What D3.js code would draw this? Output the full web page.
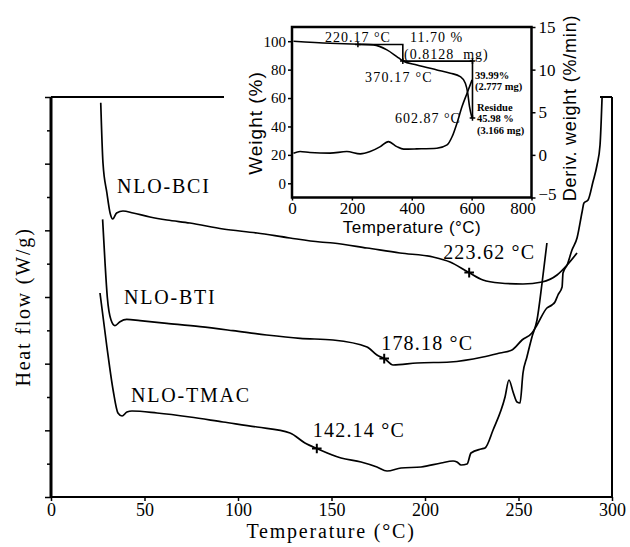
<!DOCTYPE html>
<html><head><meta charset="utf-8">
<script src="https://cdn.jsdelivr.net/npm/d3@7"></script>
<style>
html,body{margin:0;padding:0;background:#fff;}
svg{display:block;}
text{white-space:pre;}
</style></head><body>
<svg id="c" width="630" height="547"></svg>
<script>
// ---------- DATA ----------
// Main DSC chart
const xTickValues = [0, 50, 100, 150, 200, 250, 300];
const yMajorTicks = [0, 2, 4, 6, 8, 10, 12];
const yMinorTicks = [1, 3, 5, 7, 9, 11];

const bciTemp = [26.6, 27.8, 29.9, 31.6, 33.0, 35.1, 38.5, 43.9, 52.9, 62.0, 74.3, 92.0, 110.2, 127.8, 143.9, 150.8, 169.0, 186.6, 204.3, 213.4, 223.0, 231.0, 240.1, 252.4, 262.6, 270.6, 276.0, 281.3];
const bciHeat = [11.83, 10.02, 9.12, 8.52, 8.34, 8.52, 8.58, 8.52, 8.40, 8.31, 8.22, 8.04, 7.92, 7.77, 7.65, 7.62, 7.47, 7.32, 7.20, 7.05, 6.75, 6.51, 6.42, 6.39, 6.45, 6.66, 6.96, 7.32];

const btiTemp = [27.6, 28.9, 30.1, 32.1, 34.2, 36.9, 40.5, 47.6, 61.9, 79.7, 97.3, 115.3, 133.2, 150.8, 169.0, 174.3, 178.6, 182.9, 195.7, 213.4, 231.0, 240.1, 246.5, 251.9, 257.2, 259.9, 265.2, 267.9, 269.5, 271.1, 273.3, 273.8, 276.0, 278.6, 281.3, 284.0, 285.0, 287.2, 289.8, 292.0, 293.6, 294.7];
const btiHeat = [8.33, 7.02, 6.00, 5.31, 5.14, 5.26, 5.33, 5.29, 5.21, 5.11, 4.99, 4.86, 4.76, 4.71, 4.50, 4.26, 4.14, 3.96, 4.02, 4.05, 4.20, 4.32, 4.41, 4.71, 4.92, 5.16, 5.67, 5.76, 5.85, 6.06, 6.30, 6.72, 6.96, 7.41, 7.77, 8.55, 8.82, 8.91, 9.45, 9.96, 10.56, 12.0];

const tmacTemp = [26.2, 29.9, 33.2, 35.8, 38.0, 40.6, 43.3, 56.7, 74.3, 92.0, 110.2, 127.8, 135.8, 142.8, 155.1, 165.8, 174.3, 179.7, 187.2, 197.9, 208.6, 215.0, 217.1, 219.3, 222.5, 224.6, 230.0, 232.1, 236.4, 242.8, 244.9, 247.1, 249.2, 250.8, 252.4, 254.5, 257.2, 259.9, 262.6, 265.2];
const tmacHeat = [6.12, 4.50, 3.21, 2.52, 2.43, 2.55, 2.58, 2.52, 2.40, 2.25, 2.10, 1.92, 1.62, 1.44, 1.17, 1.05, 0.90, 0.78, 0.87, 0.90, 1.02, 1.08, 1.05, 0.96, 0.99, 1.32, 1.44, 1.47, 2.01, 3.00, 3.51, 3.15, 2.85, 2.82, 3.72, 4.20, 4.80, 5.31, 6.42, 7.62];

const sampleNames = ["NLO-BCI", "NLO-BTI", "NLO-TMAC"];
const transitionTemps = [223.62, 178.18, 142.14];
const transitionLabels = ["223.62 °C", "178.18 °C", "142.14 °C"];

// Inset TGA chart
const insetXTicks = [0, 200, 400, 600, 800];
const insetWeightTicks = [0, 20, 40, 60, 80, 100];
const insetDerivTicks = [-5, 0, 5, 10, 15];

const tgaTemp   = [5, 127, 222, 272, 317, 350, 370.5, 417, 484, 529, 562, 579, 587, 593, 601.5];
const tgaWeight = [100, 98.6, 97.9, 97.4, 93.9, 89.2, 86.1, 83.3, 79.8, 77.5, 75.1, 70.4, 63.4, 53.9, 45.8];

const dtgTemp  = [5, 27, 60, 127, 183, 228, 261, 295, 322, 350, 373, 417, 484, 518, 535, 551, 568, 585, 601.5];
const dtgDeriv = [0.2, 0.39, 0.27, 0.2, 0.39, 0.12, 0.39, 0.97, 1.56, 0.97, 0.67, 0.70, 0.78, 1.17, 2.15, 3.72, 5.67, 7.25, 8.8];

const stepTemp   = [220.17, 370.17, 370.17, 602.87, 602.87];
const stepWeight = [97.7, 97.7, 86.0, 86.0, 46.0];

// ---------- DRAW ----------
const svg = d3.select('#c');
const serif = '"Liberation Serif","Times New Roman",serif';
const sans = '"Liberation Sans",Arial,sans-serif';

const x = d3.scaleLinear().domain([0, 300]).range([51, 612]);
const y = d3.scaleLinear().domain([0, 12]).range([497, 97]);

const main = svg.append('g');

// y ticks (no labels)
const yMaj = main.append('g').attr('transform', `translate(${x(0)},0)`)
  .call(d3.axisLeft(y).tickValues(yMajorTicks).tickSize(6).tickFormat(''));
const yMin = main.append('g').attr('transform', `translate(${x(0)},0)`)
  .call(d3.axisLeft(y).tickValues(yMinorTicks).tickSize(4).tickFormat(''));
[yMaj, yMin].forEach(a => { a.select('.domain').remove(); a.selectAll('line').attr('stroke', '#000').attr('stroke-width', 1.5); });

// x axis
const xAx = main.append('g').attr('transform', `translate(0,${y(0)})`)
  .call(d3.axisBottom(x).tickValues(xTickValues).tickSize(4));
xAx.select('.domain').remove();
xAx.selectAll('line').attr('stroke', '#000').attr('stroke-width', 1.5);
xAx.selectAll('text').attr('y', 19).attr('dy', 0)
  .style('font-family', serif).style('font-size', '18px').attr('fill', '#000');

// frame
const [x0, x1] = x.range();
const [yb, yt] = y.range();
main.append('line').attr('x1', x0).attr('x2', x0).attr('y1', yt).attr('y2', yb).attr('stroke', '#000').attr('stroke-width', 3);
main.append('line').attr('x1', x0).attr('x2', x1).attr('y1', yb).attr('y2', yb).attr('stroke', '#000').attr('stroke-width', 2);
main.append('line').attr('x1', x0).attr('x2', x1).attr('y1', yt).attr('y2', yt).attr('stroke', '#000').attr('stroke-width', 2);
main.append('line').attr('x1', x1).attr('x2', x1).attr('y1', yt).attr('y2', yb).attr('stroke', '#000').attr('stroke-width', 2);

// curves
const series = [
  {T: bciTemp, V: bciHeat},
  {T: btiTemp, V: btiHeat},
  {T: tmacTemp, V: tmacHeat}
];
const line = d3.line().x(d => x(d[0])).y(d => y(d[1])).curve(d3.curveMonotoneX);
series.forEach(s => {
  main.append('path').datum(s.T.map((t, i) => [t, s.V[i]]))
    .attr('d', line).attr('fill', 'none').attr('stroke', '#000').attr('stroke-width', 1.7)
    .attr('stroke-linejoin', 'round');
});

function interp(T, Ts, Vs) {
  const i = Math.max(1, Math.min(Ts.length - 1, d3.bisectLeft(Ts, T)));
  const t = (T - Ts[i - 1]) / (Ts[i] - Ts[i - 1]);
  return Vs[i - 1] + t * (Vs[i] - Vs[i - 1]);
}

// markers and transition labels
const labelOffsets = [[-26, -14], [-3, -9], [-4, -11]];
transitionTemps.forEach((T, i) => {
  const v = interp(T, series[i].T, series[i].V);
  const px = x(T), py = y(v);
  main.append('path').attr('d', d3.symbol(d3.symbolPlus, 32)())
    .attr('transform', `translate(${px},${py})`).attr('stroke', '#000').attr('stroke-width', 2).attr('fill', 'none');
  main.append('text').text(transitionLabels[i])
    .attr('x', px + labelOffsets[i][0]).attr('y', py + labelOffsets[i][1])
    .style('font-family', serif).style('font-size', '20px').style('letter-spacing', '1.2px');
});

// sample names
const namePos = [[117, 193], [124, 304], [131, 402]];
sampleNames.forEach((n, i) => {
  main.append('text').text(n).attr('x', namePos[i][0]).attr('y', namePos[i][1])
    .style('font-family', serif).style('font-size', '20px').style('letter-spacing', '1.8px');
});

// axis titles
main.append('text').text('Temperature (°C)').attr('x', 331).attr('y', 538).attr('text-anchor', 'middle')
  .style('font-family', serif).style('font-size', '20px').style('letter-spacing', '1.8px');
main.append('text').text('Heat flow (W/g)').attr('transform', 'translate(30,307) rotate(-90)').attr('text-anchor', 'middle')
  .style('font-family', serif).style('font-size', '20px').style('letter-spacing', '1.8px');

// ---------- INSET ----------
const inset = svg.append('g');
inset.append('rect').attr('x', 224).attr('y', 0).attr('width', 376).attr('height', 99).attr('fill', '#fff');

const ix = d3.scaleLinear().domain([0, 800]).range([292, 531.5]);
const iyW = d3.scaleLinear().domain([-10, 110]).range([197.5, 27]);
const iyD = d3.scaleLinear().domain([-5, 15]).range([197.5, 27]);

const ixAx = inset.append('g').attr('transform', `translate(0,${iyW.range()[0]})`)
  .call(d3.axisBottom(ix).tickValues(insetXTicks).tickSize(3));
ixAx.selectAll('text').attr('y', 16).attr('dy', 0).style('font-size', '17px')
  .attr('dx', d => d === 800 ? -9 : 0);
const iyAxL = inset.append('g').attr('transform', `translate(${ix.range()[0]},0)`)
  .call(d3.axisLeft(iyW).tickValues(insetWeightTicks).tickSize(4).tickPadding(2));
iyAxL.selectAll('text').style('font-size', '15px');
const iyAxR = inset.append('g').attr('transform', `translate(${ix.range()[1]},0)`)
  .call(d3.axisRight(iyD).tickValues(insetDerivTicks).tickSize(4).tickPadding(3));
iyAxR.selectAll('text').style('font-size', '17px')
  .attr('dy', d => d === -5 ? '0.1em' : '0.32em');
[ixAx, iyAxL, iyAxR].forEach(a => {
  a.select('.domain').remove();
  a.selectAll('line').attr('stroke', '#000').attr('stroke-width', 1.5);
  a.selectAll('text').style('font-family', serif).attr('fill', '#000');
});

inset.append('rect').attr('x', ix.range()[0]).attr('y', iyW.range()[1])
  .attr('width', ix.range()[1] - ix.range()[0]).attr('height', iyW.range()[0] - iyW.range()[1])
  .attr('fill', 'none').attr('stroke', '#000').attr('stroke-width', 2.5);

const lineW = d3.line().x(d => ix(d[0])).y(d => iyW(d[1])).curve(d3.curveMonotoneX);
const lineD = d3.line().x(d => ix(d[0])).y(d => iyD(d[1])).curve(d3.curveMonotoneX);
const lineStep = d3.line().x(d => ix(d[0])).y(d => iyW(d[1]));

inset.append('path').datum(tgaTemp.map((t, i) => [t, tgaWeight[i]])).attr('d', lineW)
  .attr('fill', 'none').attr('stroke', '#000').attr('stroke-width', 1.6);
inset.append('path').datum(dtgTemp.map((t, i) => [t, dtgDeriv[i]])).attr('d', lineD)
  .attr('fill', 'none').attr('stroke', '#000').attr('stroke-width', 1.6);
inset.append('path').datum(stepTemp.map((t, i) => [t, stepWeight[i]])).attr('d', lineStep)
  .attr('fill', 'none').attr('stroke', '#000').attr('stroke-width', 1.6);

// step markers
[0, 2, 3, 4].forEach(k => {
  inset.append('path').attr('d', d3.symbol(d3.symbolPlus, 12)())
    .attr('transform', `translate(${ix(stepTemp[k])},${iyW(stepWeight[k])})`)
    .attr('stroke', '#000').attr('stroke-width', 1.5).attr('fill', 'none');
});

// inset annotations
const ann = [
  ['220.17 °C', 325, 42, 14, 'normal', 1],
  ['11.70 %', 410, 42, 14, 'normal', 1],
  ['(0.8128  mg)', 404, 59, 14, 'normal', 1],
  ['370.17 °C', 365, 82, 14, 'normal', 1.2],
  ['602.87 °C', 395, 123, 14, 'normal', 1],
  ['39.99%', 475, 79, 10.5, 'bold', 0],
  ['(2.777 mg)', 475, 90, 10.5, 'bold', 0],
  ['Residue', 477, 111, 10.5, 'bold', 0],
  ['45.98 %', 477, 122, 10.5, 'bold', 0],
  ['(3.166 mg)', 477, 134, 10.5, 'bold', 0]
];
ann.forEach(a => {
  inset.append('text').text(a[0]).attr('x', a[1]).attr('y', a[2])
    .style('font-family', serif).style('font-size', a[3] + 'px').style('font-weight', a[4])
    .style('letter-spacing', a[5] + 'px');
});

inset.append('text').text('Temperature (°C)').attr('x', 412).attr('y', 233).attr('text-anchor', 'middle')
  .style('font-family', sans).style('font-size', '17px').style('letter-spacing', '0.5px');
inset.append('text').text('Weight (%)').attr('transform', 'translate(262,123) rotate(-90)').attr('text-anchor', 'middle')
  .style('font-family', sans).style('font-size', '19px').style('letter-spacing', '1px');
inset.append('text').text('Deriv. weight (%/min)').attr('transform', 'translate(576,108) rotate(-90)').attr('text-anchor', 'middle')
  .style('font-family', sans).style('font-size', '18px').style('letter-spacing', '0.8px');
</script>
</body></html>
